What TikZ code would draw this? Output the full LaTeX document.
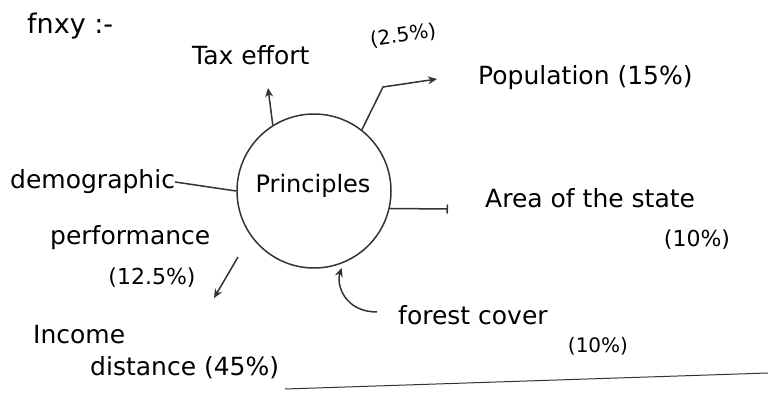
\documentclass[tikz,border=0pt]{standalone}
\usepackage{fontspec}
\setmainfont{DejaVu Sans}
\usetikzlibrary{arrows.meta}
\begin{document}
\begin{tikzpicture}[x=1pt,y=-1pt,
  hand/.style={font=\fontsize{25}{29}\selectfont, inner sep=0pt, anchor=west},
  small/.style={font=\fontsize{20}{24}\selectfont, inner sep=0pt},
  pen/.style={line width=1.5pt, black!80},
  arr/.style={pen, -{Stealth[length=9pt,width=8pt]}}]
\useasboundingbox (0,0) rectangle (768,394);
% title
\node[hand, font=\fontsize{27}{31}\selectfont] (title) at (27,26) {fnxy :-};
% centre
\node[circle, draw, pen, minimum size=154pt, inner sep=0pt] (prin) at (314,191) {};
\node[font=\fontsize{24}{28}\selectfont] (prinlbl) at (313,186) {Principles};
% labels
\node[hand] (tax) at (192,55) {Tax effort};
\node[small, anchor=west, rotate=8] (taxpct) at (370,40) {(2.5\%)};
\node[hand] (pop) at (478,78) {Population (15\%)};
\node[hand] (area) at (485,198) {Area of the state};
\node[small, font=\fontsize{22}{26}\selectfont] (areapct) at (697,240) {(10\%)};
\node[hand] (forest) at (398,315) {forest cover};
\node[small, font=\fontsize{20}{24}\selectfont] (forestpct) at (598,346) {(10\%)};
\node[hand] (demo) at (10,182) {demographic};
\node[hand] (perf) at (50,238) {performance};
\node[small, font=\fontsize{22}{26}\selectfont] (perfpct) at (152,278) {(12.5\%)};
\node[hand] (income) at (33,335) {Income};
\node[hand] (dist) at (90,368) {distance (45\%)};
% connectors
\coordinate (taxend) at (268,88);
\draw[arr] (prin.122) -- (taxend);
\coordinate (popbend) at (383,87);
\coordinate (popend) at (437,79);
\draw[arr] (prin.52) -- (popbend) -- (popend);
\coordinate (areaend) at (448,209);
\draw[pen, -{Bar[width=9pt]}] (prin.-13) -- (areaend);
\draw[pen] (demo.east) -- (prin.180);
\coordinate (perfstart) at (238,257);
\coordinate (perfend) at (214,298);
\draw[arr] (perfstart) -- (perfend);
\coordinate (foreststart) at (377,312);
\draw[arr, shorten >=5pt] (foreststart) .. controls (345,312) and (336,285) .. (prin.-68);
% bottom rule
\coordinate (ruleA) at (285,389);
\coordinate (ruleB) at (768,373);
\draw[pen, line width=1pt] (ruleA) -- (ruleB);
\end{tikzpicture}
\end{document}
